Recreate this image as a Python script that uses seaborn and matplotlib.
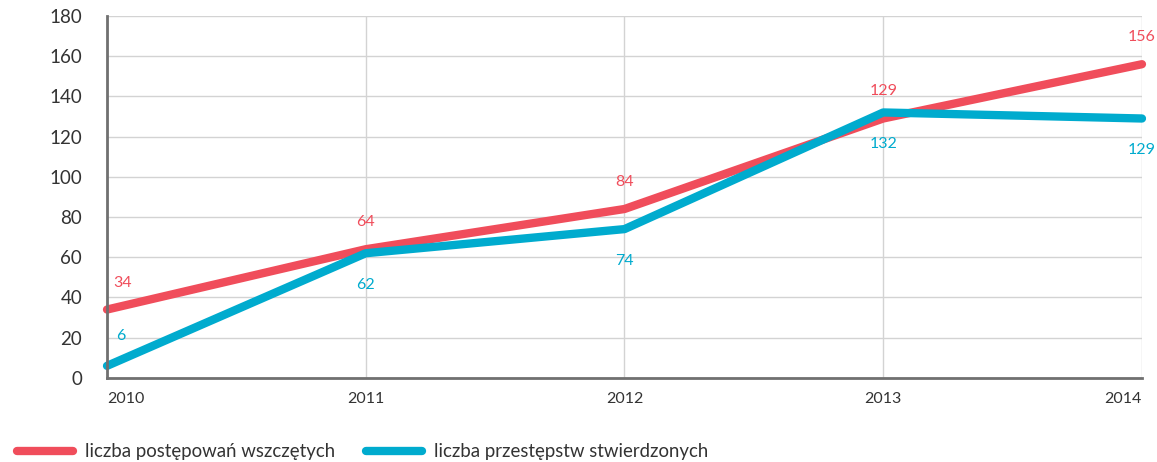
import pandas as pd
import matplotlib.pyplot as plt
import seaborn as sns
from matplotlib.lines import Line2D

# Data
years = [2010, 2011, 2012, 2013, 2014]
postepowania = [34, 64, 84, 129, 156]
przestepstwa = [6, 62, 74, 132, 129]
series_names = ['liczba postępowań wszczętych', 'liczba przestępstw stwierdzonych']
colors = ['#F04D5B', '#00ABCE']

df = pd.DataFrame({
    'rok': years * 2,
    'wartosc': postepowania + przestepstwa,
    'seria': [series_names[0]] * len(years) + [series_names[1]] * len(years),
})

sns.set_style('white')
plt.rcParams['font.family'] = ['Lato', 'DejaVu Sans']

fig = plt.figure(figsize=(11.57, 4.62), dpi=100)
ax = fig.add_axes([0.0925, 0.182, 0.8945, 0.7835])

sns.lineplot(data=df, x='rok', y='wartosc', hue='seria',
             palette=dict(zip(series_names, colors)),
             linewidth=6, legend=False, ax=ax,
             solid_capstyle='round', solid_joinstyle='round')
for ln in ax.lines:
    ln.set_clip_on(False)

ax.set_xlim(2010, 2014)
ax.set_ylim(0, 180)
ax.set_xticks(years)
ax.set_yticks(range(0, 181, 20))
ax.set_xlabel('')
ax.set_ylabel('')
ax.grid(True, color='#d3d3d3', linewidth=1)
ax.set_axisbelow(True)

for side in ['top', 'right']:
    ax.spines[side].set_visible(False)
for side in ['left', 'bottom']:
    ax.spines[side].set_color('#707070')
    ax.spines[side].set_linewidth(2)

ax.tick_params(axis='y', direction='out', length=6, width=2, color='#707070',
               labelsize=13.5, labelcolor='#333333', pad=12)
ax.tick_params(axis='x', direction='out', length=6, width=2, color='#707070',
               labelsize=11.5, labelcolor='#333333', pad=4.5)
xlabels = ax.get_xticklabels()
xlabels[0].set_ha('left')
xlabels[-1].set_ha('right')

# value labels: red above the points, blue below (except first)
for i, (x, y) in enumerate(zip(years, postepowania)):
    dx, ha = (6, 'left') if i == 0 else (0, 'center')
    ax.annotate(str(y), (x, y), xytext=(dx, 27), textcoords='offset pixels',
                ha=ha, va='center', color=colors[0], fontsize=11.5)
for i, (x, y) in enumerate(zip(years, przestepstwa)):
    if i == 0:
        ax.annotate(str(y), (x, y), xytext=(9, 30), textcoords='offset pixels',
                    ha='left', va='center', color=colors[1], fontsize=11.5)
    else:
        ax.annotate(str(y), (x, y), xytext=(0, -32), textcoords='offset pixels',
                    ha='center', va='center', color=colors[1], fontsize=11.5)

handles = [Line2D([0], [0], color=c, linewidth=6, solid_capstyle='round') for c in colors]
fig.legend(handles, series_names, loc='center left', bbox_to_anchor=(0.0, 0.022),
           ncol=2, frameon=False, fontsize=13.4, handlelength=3.0,
           handletextpad=0.65, columnspacing=1.7, labelcolor='#333333')

fig.savefig('out.png', dpi=100)
